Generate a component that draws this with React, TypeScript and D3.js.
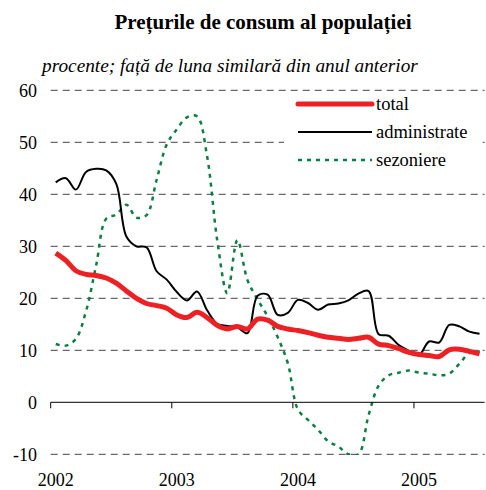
import React from 'react';
import * as d3 from 'd3';

// monthly values, Jan 2002 .. Jul 2005
const months = d3.timeMonth.range(new Date(2002, 0, 1), new Date(2005, 7, 1));
const total = [28.7, 27.3, 25.3, 24.6, 24.4, 23.9, 22.9, 21.4, 20.0, 19.0, 18.6, 18.1,
    16.8, 16.3, 17.3, 16.3, 14.8, 14.1, 14.6, 14.1, 16.0, 15.8, 14.6, 14.1,
    13.8, 13.4, 12.9, 12.5, 12.3, 12.1, 12.3, 12.5, 11.2, 10.9, 10.3, 9.6,
    9.2, 9.0, 8.8, 10.1, 10.2, 9.8, 9.3];
const administrate = [42.3, 43.1, 40.9, 44.3, 44.9, 44.6, 42.0, 31.9, 30.0, 29.8, 25.2, 23.6,
    21.2, 19.6, 21.3, 17.7, 15.1, 14.7, 14.4, 13.3, 20.5, 20.7, 16.8, 17.2,
    19.7, 19.1, 17.8, 18.8, 19.0, 19.6, 20.9, 21.4, 13.1, 12.8, 11.0, 9.9,
    9.1, 11.7, 11.5, 14.9, 14.6, 13.6, 13.2];
const sezoniere = [11.2, 10.9, 12.2, 17.5, 26.3, 35.3, 36.1, 38.0, 35.5, 36.0, 42.8, 49.6,
    52.5, 54.8, 55.0, 47.3, 31.2, 21.0, 31.2, 23.5, 19.8, 16.5, 12.5, 7.5,
    -1.4, -3.4, -5.3, -7.5, -8.5, -10.0, -10.0, -2.5, 3.2, 5.2, 5.7, 6.1,
    5.7, 5.5, 5.2, 5.5, 7.4, 9.5, 9.8];
const yTicks = [60, 50, 40, 30, 20, 10, 0, -10];

const series = [
    { name: 'total', values: total, color: '#ED2024', width: 5, dash: null },
    { name: 'administrate', values: administrate, color: '#000000', width: 2, dash: null },
    { name: 'sezoniere', values: sezoniere, color: '#0B7F3F', width: 2.5, dash: '4,5' },
];

export default function App() {
    const width = 486;
    const height = 490;
    const font = '"Liberation Serif", "Times New Roman", serif';

    const xScale = d3.scaleBand<Date>()
        .domain(months)
        .range([50.7, 484.6]);

    const yScale = d3.scaleLinear()
        .domain([-10, 60])
        .range([454.3, 90.3]);

    const xc = (i: number) => (xScale(months[i]) as number) + xScale.bandwidth() / 2;

    const lineGenerator = d3.line<number>()
        .x((d, i) => xc(i))
        .y(d => yScale(d))
        .curve(d3.curveCatmullRom.alpha(0.5));

    const yearStarts = months.filter(m => m.getMonth() === 0);

    return (
        <svg width={width} height={height} style={{ position: 'absolute', left: 0, top: 0 }}
            fontFamily={font}>
            <rect width={width} height={height} fill="#fff" />
            <text x={263} y={29} textAnchor="middle" fontSize={21} fontWeight="bold">
                Prețurile de consum al populației
            </text>
            <text x={42} y={72} fontSize={19.3} fontStyle="italic">
                procente; față de luna similară din anul anterior
            </text>

            {/* grid + y labels */}
            {yTicks.map(t => (
                <g key={t}>
                    {t !== 0 && (
                        <line x1={50.7} x2={484.6} y1={yScale(t)} y2={yScale(t)}
                            stroke="#444" strokeWidth={1} strokeDasharray="7,5" />
                    )}
                    <text x={37} y={yScale(t)} dy="0.35em" textAnchor="end" fontSize={18}>{t}</text>
                </g>
            ))}

            {/* legend box */}
            <rect x={284} y={93} width={198} height={82} fill="#fff" />
            {series.map((s, k) => (
                <g key={s.name} transform={`translate(0,${104 + k * 28})`}>
                    <line x1={298} x2={372} stroke={s.color} strokeWidth={s.width}
                        strokeLinecap={k === 0 ? 'round' : 'butt'}
                        strokeDasharray={s.dash ?? undefined} />
                    <text x={376} dy="0.32em" fontSize={18.5}>{s.name}</text>
                </g>
            ))}

            <defs>
                <clipPath id="plot">
                    <rect x={50.7} y={85} width={434} height={370} />
                </clipPath>
            </defs>
            <g clipPath="url(#plot)">
                {series.slice().reverse().map(s => (
                    <path key={s.name} d={lineGenerator(s.values) ?? ''} fill="none"
                        stroke={s.color} strokeWidth={s.width} strokeLinejoin="round"
                        strokeDasharray={s.dash ?? undefined} />
                ))}
            </g>

            {/* x axis at 0 */}
            <line x1={50.7} x2={484.6} y1={yScale(0)} y2={yScale(0)} stroke="#000" strokeWidth={1} />
            {yearStarts.map(m => (
                <g key={m.getFullYear()}>
                    <line x1={xScale(m)} x2={xScale(m)} y1={yScale(0)} y2={yScale(0) + 6}
                        stroke="#000" strokeWidth={1} />
                    <text x={xc(months.indexOf(m))} y={486} textAnchor="middle" fontSize={18}>
                        {m.getFullYear()}
                    </text>
                </g>
            ))}
        </svg>
    );
}
